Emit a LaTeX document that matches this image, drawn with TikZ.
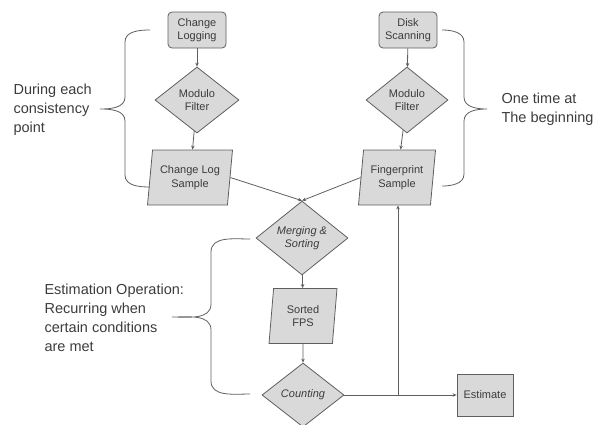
\documentclass[tikz,border=0pt]{standalone}
\usepackage{fontspec}
\setmainfont{Liberation Sans}
\usetikzlibrary{arrows.meta,shapes.geometric,positioning}

\definecolor{boxfill}{RGB}{217,217,217}
\definecolor{boxline}{RGB}{95,95,95}
\definecolor{txtgray}{RGB}{60,60,60}

\tikzset{
    every node/.style = {text=txtgray},
    proc/.style = {rectangle, draw=boxline, fill=boxfill, thick, align=center,
        font=\fontsize{11}{13.5}\selectfont, inner sep=1pt},
    decide/.style = {diamond, draw=boxline, fill=boxfill, thick, align=center,
        font=\fontsize{11}{13.5}\selectfont, inner sep=0pt},
    dataio/.style = {trapezium, trapezium left angle=78, trapezium right angle=102,
        trapezium stretches body, draw=boxline, fill=boxfill, thick, align=center,
        font=\fontsize{11}{13.5}\selectfont, inner sep=0pt},
    note/.style = {align=left, anchor=west, font=\fontsize{14.5}{19}\selectfont},
    flow/.style = {draw=boxline, thick, -{Stealth[length=4pt,width=3.5pt]}},
    grp/.style = {draw=boxline, thick}
}

\begin{document}
\begin{tikzpicture}[x=1pt, y=-1pt]
    \useasboundingbox (0,0) rectangle (593,424);

    % the two sample paths
    \node [proc, rounded corners=4pt, minimum width=58pt, minimum height=36pt] (clog) at (197,30) {Change\\Logging};
    \node [decide, minimum width=84pt, minimum height=66pt] (mod1) at (197,100) {Modulo\\Filter};
    \node [dataio, minimum width=85pt, minimum height=55pt] (clsample) at (190,177.5) {Change Log\\Sample};

    \node [proc, rounded corners=4pt, minimum width=58pt, minimum height=36pt] (disk) at (408,30) {Disk\\Scanning};
    \node [decide, minimum width=82pt, minimum height=66pt] (mod2) at (407,100) {Modulo\\Filter};
    \node [dataio, minimum width=77pt, minimum height=55pt] (fpsample) at (397,177.5) {Fingerprint\\Sample};

    % estimation
    \node [decide, minimum width=92pt, minimum height=66pt] (merge) at (302,238) {\itshape Merging \&\\\itshape Sorting};
    \node [dataio, minimum width=68pt, minimum height=55pt] (sorted) at (303,316) {Sorted\\FPS};
    \node [decide, minimum width=82pt, minimum height=64pt] (count) at (303,395) {\itshape Counting};
    \node [proc, minimum width=56pt, minimum height=42pt] (est) at (485,395) {Estimate};
    \coordinate (split) at (398,395);

    \draw [flow] (clog) -- (mod1);
    \draw [flow] (mod1) -- (clsample);
    \draw [flow] (disk) -- (mod2);
    \draw [flow] (mod2) -- (fpsample);
    \draw [flow] (clsample.east) -- (merge.north);
    \draw [flow] (fpsample.west) -- (merge.north);
    \draw [flow] (merge) -- (sorted);
    \draw [flow] (sorted) -- (count);
    \draw [flow] (count.east) -- (est.west);
    \draw [flow] (split) -- (split |- fpsample.south);

    % braces and notes
    \node [note] (during) at (10,110) {During each\\consistency\\point};
    \draw [grp] (150,30) to[out=180,in=90] (125,42) -- (125,97)
        to[out=-90,in=0] (100,109) to[out=0,in=90] (125,121)
        -- (125,175) to[out=-90,in=180] (150,187);

    \node [note] (once) at (498,109) {One time at\\The beginning};
    \draw [grp] (442,30) to[out=0,in=90] (464,42) -- (464,97)
        to[out=-90,in=180] (487,109) to[out=180,in=90] (464,121)
        -- (464,174) to[out=-90,in=0] (442,186);

    \node [note] (recur) at (41,317.5) {Estimation Operation:\\Recurring when\\certain conditions\\are met};
    \draw [grp] (250,239) to[out=180,in=90] (211,252) -- (211,304)
        to[out=-90,in=0] (172,317) to[out=0,in=90] (211,330)
        -- (211,381) to[out=-90,in=180] (250,394);
\end{tikzpicture}
\end{document}
